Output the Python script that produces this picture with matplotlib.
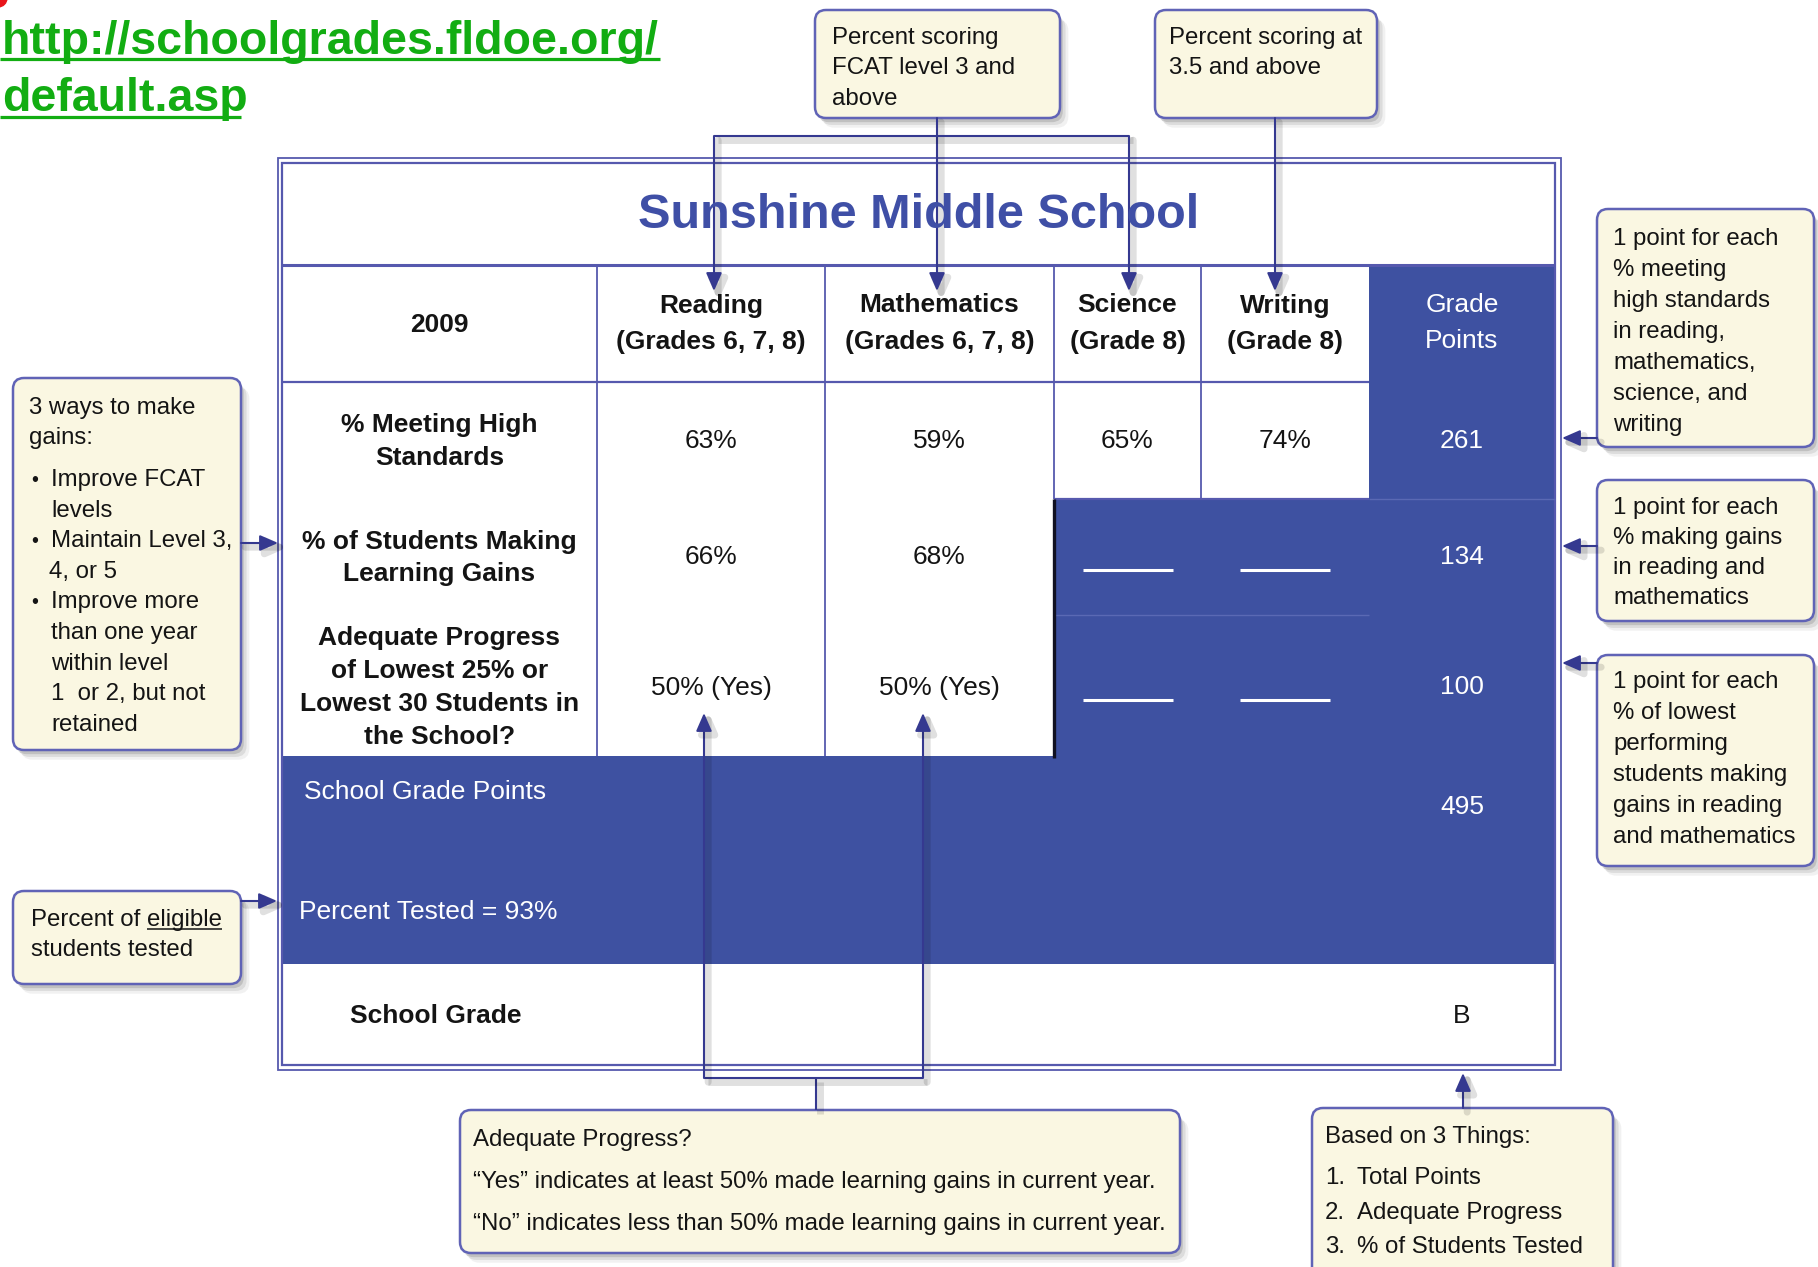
import matplotlib.pyplot as plt
import matplotlib.patheffects as pe
from matplotlib.patches import Rectangle, FancyBboxPatch, Circle

# --- content ---
URL_LINES = ['http://schoolgrades.fldoe.org/', 'default.asp']
SCHOOL = 'Sunshine Middle School'
YEAR = '2009'
SUBJECTS = ['Reading\n(Grades 6, 7, 8)', 'Mathematics\n(Grades 6, 7, 8)',
            'Science\n(Grade 8)', 'Writing\n(Grade 8)']
ROW_LABELS = ['% Meeting High\nStandards',
              '% of Students Making\nLearning Gains',
              'Adequate Progress\nof Lowest 25% or\nLowest 30 Students in\nthe School?']
MEETING_HIGH = [63, 59, 65, 74]
LEARNING_GAINS = [66, 68]
LOWEST_25 = [50, 50]
LOWEST_25_OK = ['Yes', 'Yes']
GRADE_POINTS = [261, 134, 100]
TOTAL_POINTS = 495
PERCENT_TESTED = 93
SCHOOL_GRADE = 'B'

NOTE_FCAT = ['Percent scoring', 'FCAT level 3 and', 'above']
NOTE_WRITING = ['Percent scoring at', '3.5 and above']
NOTE_GAINS = ['3 ways to make', 'gains:']
NOTE_GAINS_ITEMS = [('\u2022', 'Improve FCAT'), ('', 'levels'),
                    ('\u2022', 'Maintain Level 3,'), ('', '4, or 5'),
                    ('\u2022', 'Improve more'), ('', 'than one year'),
                    ('', 'within level'), ('', '1  or 2, but not'), ('', 'retained')]
NOTE_TESTED = ['Percent of ', 'eligible', 'students tested']
NOTE_HIGH = ['1 point for each', '% meeting', 'high standards', 'in reading,',
             'mathematics,', 'science, and', 'writing']
NOTE_MAKING = ['1 point for each', '% making gains', 'in reading and', 'mathematics']
NOTE_LOWEST = ['1 point for each', '% of lowest', 'performing', 'students making',
               'gains in reading', 'and mathematics']
NOTE_PROGRESS = ['Adequate Progress?',
                 '\u201cYes\u201d indicates at least 50% made learning gains in current year.',
                 '\u201cNo\u201d indicates less than 50% made learning gains in current year.']
NOTE_BASED = ['Based on 3 Things:']
NOTE_BASED_ITEMS = [('1.', 'Total Points'), ('2.', 'Adequate Progress'),
                    ('3.', '% of Students Tested')]

# --- styling ---
BLUE = '#3E51A1'
GRID = '#5659AE'
LINK = '#353990'
CREAM = '#FAF7E2'
EDGE = '#6063B6'
GREEN = '#12AD12'
INK = '#141414'
FONT = 'Liberation Sans'
NOTE_SIZE = 17.3
CELL_SIZE = 19

W, H = 1818, 1267
plt.rcParams['font.family'] = [FONT, 'DejaVu Sans']
fig = plt.figure(figsize=(W / 100, H / 100), dpi=100)
ax = fig.add_axes([0, 0, 1, 1])
ax.set_xlim(0, W)
ax.set_ylim(H, 0)
ax.axis('off')

COL_X = [282, 597, 825, 1054, 1201, 1369, 1555]
col_mid = [(COL_X[i] + COL_X[i + 1]) / 2 for i in range(len(COL_X) - 1)]
TITLE_Y, HEAD_Y, ROW1_Y, ROW2_Y, ROW3_Y, BAND_Y, GRADE_Y, BOTTOM_Y = 163, 265, 382, 499, 615, 756, 964, 1065
row_mid = [(ROW1_Y + ROW2_Y) / 2, (ROW2_Y + ROW3_Y) / 2, (ROW3_Y + BAND_Y) / 2 + 1]


def txt(x, y, s, size=CELL_SIZE, color=INK, weight='normal', ha='center', va='center', z=8):
    return ax.text(x, y, s, fontsize=size, color=color, fontweight=weight,
                   ha=ha, va=va, zorder=z)


def stacked(x, yc, text, step, **kw):
    parts = text.split('\n')
    for i, p in enumerate(parts):
        txt(x, yc + (i - (len(parts) - 1) / 2) * step, p, **kw)


def seg(xs, ys, color=GRID, lw=1.3, z=3, shadow=False):
    effects = None
    if shadow:
        effects = [pe.SimpleLineShadow(offset=(3, -3), shadow_color='k', alpha=0.12, linewidth=5),
                   pe.Normal()]
    ax.plot(xs, ys, color=color, lw=lw, zorder=z, solid_capstyle='butt', path_effects=effects)


def arrow(x0, y0, x1, y1):
    ax.annotate('', xy=(x1, y1), xytext=(x0, y0), zorder=7,
                arrowprops=dict(arrowstyle='-|>,head_length=0.55,head_width=0.24',
                                mutation_scale=20, color=LINK, lw=1.5,
                                shrinkA=0, shrinkB=0,
                                path_effects=[pe.SimpleLineShadow(offset=(3, -3), shadow_color='k',
                                                                  alpha=0.12, linewidth=5),
                                              pe.Normal()]))


def note_box(x0, y0, x1, y1):
    box = FancyBboxPatch((x0, y0), x1 - x0, y1 - y0,
                         boxstyle='round,pad=0,rounding_size=11',
                         fc=CREAM, ec=EDGE, lw=1.8, zorder=6,
                         path_effects=[pe.SimplePatchShadow(offset=(2, -3), shadow_rgbFace='#444444', alpha=0.18),
                                       pe.SimplePatchShadow(offset=(4, -5), shadow_rgbFace='#444444', alpha=0.12),
                                       pe.SimplePatchShadow(offset=(6, -7), shadow_rgbFace='#444444', alpha=0.07),
                                       pe.Normal()])
    ax.add_patch(box)


def note_lines(x, ys, items):
    for y, s in zip(ys, items):
        txt(x, y, s, size=NOTE_SIZE, ha='left')


# --- red mark and url ---
ax.add_patch(Circle((-2, -2), 9, color='#E8141A', zorder=2))
txt(2, 54, URL_LINES[0], size=33.5, color=GREEN, weight='bold', ha='left', va='baseline')
txt(2, 111, URL_LINES[1], size=33.5, color=GREEN, weight='bold', ha='left', va='baseline')
seg([0, 660], [59, 59], color=GREEN, lw=2.3)
seg([0, 241], [117, 117], color=GREEN, lw=2.3)

# --- blue regions ---
ax.add_patch(Rectangle((COL_X[5], HEAD_Y), COL_X[6] - COL_X[5], BAND_Y - HEAD_Y, color=BLUE, zorder=1, lw=0))
ax.add_patch(Rectangle((COL_X[3], ROW2_Y), COL_X[5] - COL_X[3], BAND_Y - ROW2_Y, color=BLUE, zorder=1, lw=0))
ax.add_patch(Rectangle((COL_X[0], BAND_Y), COL_X[6] - COL_X[0], GRADE_Y - BAND_Y, color=BLUE, zorder=1, lw=0))

# --- table frame and grid ---
ax.add_patch(Rectangle((278, 158), 1561 - 278, 1070 - 158, fill=False, ec=GRID, lw=1.3, zorder=3))
ax.add_patch(Rectangle((COL_X[0], TITLE_Y), COL_X[6] - COL_X[0], BOTTOM_Y - TITLE_Y,
                       fill=False, ec=GRID, lw=1.6, zorder=3))
seg([COL_X[0], COL_X[6]], [HEAD_Y, HEAD_Y], lw=2.2)
seg([COL_X[0], COL_X[5]], [ROW1_Y, ROW1_Y], lw=1.6)
seg([COL_X[3], COL_X[5]], [ROW2_Y, ROW2_Y], lw=1.6)
for cx in COL_X[1:3]:
    seg([cx, cx], [HEAD_Y, BAND_Y], lw=1.3)
for cx in COL_X[3:5]:
    seg([cx, cx], [HEAD_Y, ROW2_Y], lw=1.3)
seg([COL_X[3], COL_X[3]], [ROW2_Y, BAND_Y + 2], color='#111122', lw=2.4, z=4)
seg([COL_X[5], COL_X[6]], [ROW2_Y, ROW2_Y], color='#5A69B4', lw=1.0)
seg([COL_X[3], COL_X[5]], [ROW3_Y, ROW3_Y], color='#5A69B4', lw=1.0)

# --- title and header ---
txt(919, 215, SCHOOL, size=35, color='#3F4FA6', weight='bold')
head_mid = (HEAD_Y + ROW1_Y) / 2
txt(col_mid[0], head_mid + 1, YEAR, weight='bold')
for i, name in enumerate(SUBJECTS):
    stacked(col_mid[i + 1], head_mid, name, 36, weight='bold')
stacked(col_mid[5], head_mid, 'Grade\nPoints', 36, color='white')

# --- rows ---
for i, label in enumerate(ROW_LABELS):
    stacked(col_mid[0], row_mid[i] + 1, label, 33, weight='bold')
for i, v in enumerate(MEETING_HIGH):
    txt(col_mid[i + 1], row_mid[0], f'{v}%')
for i, v in enumerate(LEARNING_GAINS):
    txt(col_mid[i + 1], row_mid[1], f'{v}%')
for i, (v, ok) in enumerate(zip(LOWEST_25, LOWEST_25_OK)):
    txt(col_mid[i + 1], row_mid[2] + 1, f'{v}% ({ok})')
for r in (1, 2):
    for c in (3, 4):
        seg([col_mid[c] - 45, col_mid[c] + 45], [row_mid[r] + 13] * 2, color='white', lw=2.2, z=4)
for i, v in enumerate(GRADE_POINTS):
    txt(col_mid[5], row_mid[i], str(v), color='white')

txt(304, 792, 'School Grade Points', color='white', ha='left')
txt(col_mid[5], 807, str(TOTAL_POINTS), color='white')
txt(299, 912, f'Percent Tested = {PERCENT_TESTED}%', color='white', ha='left')
txt(col_mid[0] - 4, 1016, 'School Grade', weight='bold')
txt(col_mid[5], 1016, SCHOOL_GRADE)

# --- callout boxes ---
note_box(815, 10, 1060, 118)
note_lines(832, [38, 68, 99], NOTE_FCAT)
note_box(1155, 10, 1377, 118)
note_lines(1169, [38, 68], NOTE_WRITING)

note_box(13, 378, 241, 750)
note_lines(29, [408, 438], NOTE_GAINS)
for i, (b, s) in enumerate(NOTE_GAINS_ITEMS):
    y = 480 + i * 30.6
    if b:
        txt(31, y, b, size=NOTE_SIZE - 3, ha='left')
    txt(51 if not s.startswith('4') else 49, y, s, size=NOTE_SIZE, ha='left')

note_box(13, 891, 241, 984)
t1 = txt(31, 920, NOTE_TESTED[0], size=NOTE_SIZE, ha='left')
renderer = fig.canvas.get_renderer()
inv = ax.transData.inverted()
bb1 = t1.get_window_extent(renderer=renderer)
x_el = inv.transform((bb1.x1, bb1.y0))[0]
t2 = txt(x_el, 920, NOTE_TESTED[1], size=NOTE_SIZE, ha='left')
bb2 = t2.get_window_extent(renderer=renderer)
u0 = inv.transform((bb2.x0, bb2.y0))[0]
u1 = inv.transform((bb2.x1, bb2.y0))[0]
seg([u0, u1], [929, 929], color=INK, lw=1.1, z=8)
note_lines(31, [950], NOTE_TESTED[2:])

note_box(1597, 209, 1814, 447)
note_lines(1613, [239 + 31 * i for i in range(len(NOTE_HIGH))], NOTE_HIGH)
note_box(1597, 480, 1814, 621)
note_lines(1613, [508 + 30 * i for i in range(len(NOTE_MAKING))], NOTE_MAKING)
note_box(1597, 655, 1814, 866)
note_lines(1613, [682 + 31 * i for i in range(len(NOTE_LOWEST))], NOTE_LOWEST)

note_box(460, 1110, 1180, 1253)
note_lines(473, [1140, 1182, 1224], NOTE_PROGRESS)
note_box(1312, 1108, 1613, 1300)
note_lines(1325, [1137], NOTE_BASED)
for y, (n, s) in zip([1178, 1213, 1247], NOTE_BASED_ITEMS):
    txt(1325, y, n, size=NOTE_SIZE, ha='left')
    txt(1357, y, s, size=NOTE_SIZE, ha='left')

# --- connectors ---
arrow(937, 118, 937, 291)
seg([714, 1129], [136, 136], color=LINK, lw=1.5, z=7, shadow=True)
arrow(714, 136, 714, 291)
arrow(1129, 136, 1129, 291)
arrow(1275, 118, 1275, 291)

arrow(241, 543, 278, 543)
arrow(241, 901, 277, 901)
for y in (438, 546, 663):
    arrow(1597, y, 1562, y)

seg([816, 816], [1110, 1078], color=LINK, lw=1.5, z=7, shadow=True)
seg([704, 923], [1078, 1078], color=LINK, lw=1.5, z=7, shadow=True)
arrow(704, 1078, 704, 713)
arrow(923, 1078, 923, 713)
arrow(1463, 1108, 1463, 1073)

fig.savefig('out.png', dpi=100)
